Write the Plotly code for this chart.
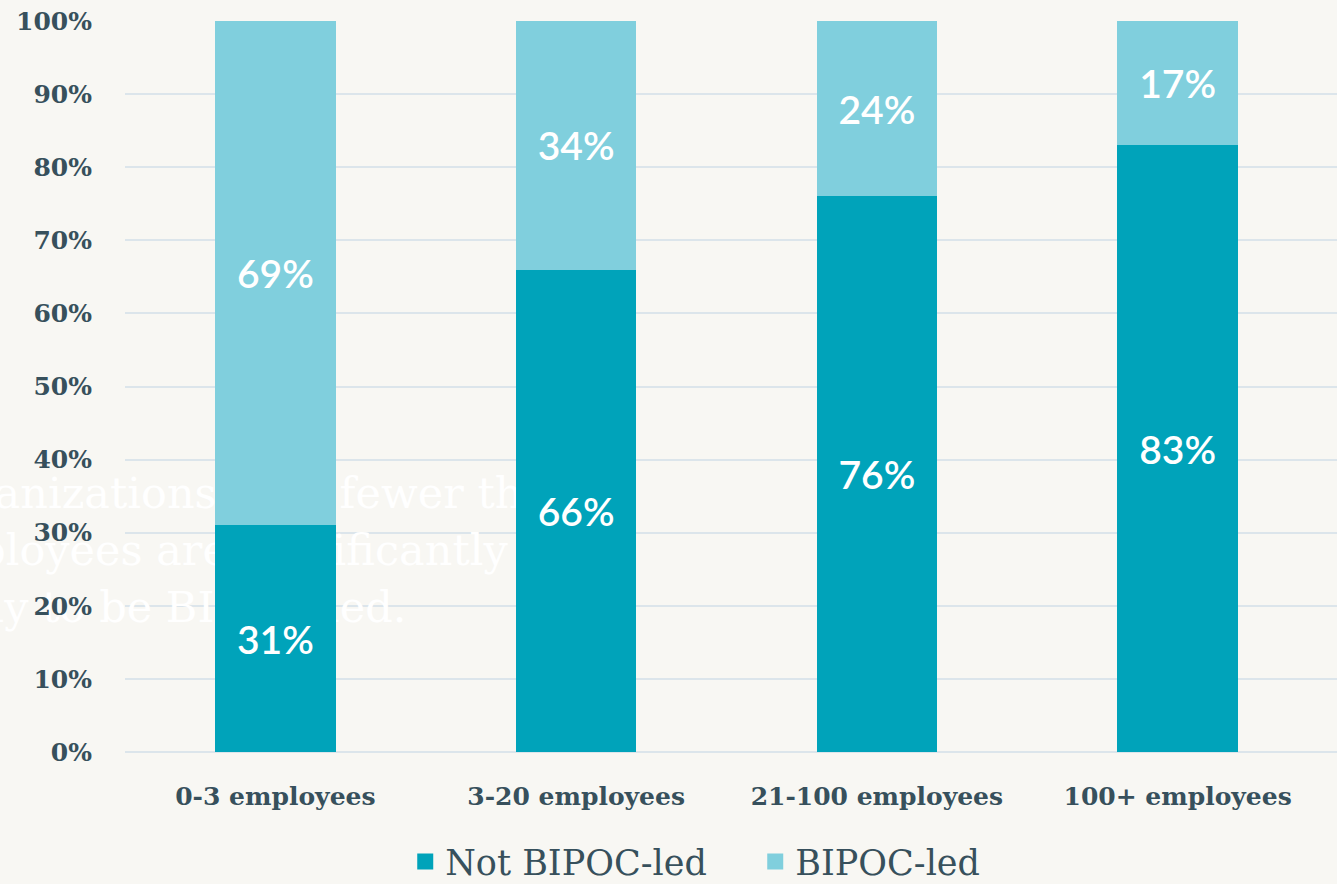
import plotly.graph_objects as go

categories = ["0-3 employees", "3-20 employees", "21-100 employees", "100+ employees"]
not_bipoc = [31, 66, 76, 83]
bipoc = [69, 34, 24, 17]
y_ticks = [0, 10, 20, 30, 40, 50, 60, 70, 80, 90, 100]
y_tick_labels = [f"{v}%" for v in y_ticks]
watermark_lines = ["Organizations with fewer than 3",
                   "employees are significantly more",
                   "likely to be BIPOC-led."]

BG = "#F8F7F3"
DARK = "#00A3BA"
LIGHT = "#80CFDD"
TXT = "#37505C"
GRID = "#DCE5EB"

fig = go.Figure()

# faint background text (drawn on base axes, behind the bars); base axes use pixel-like units
fig.add_trace(go.Scatter(
    x=[264, 273, 159], y=[387, 330, 273],
    text=watermark_lines, mode="text", textposition="middle center",
    textfont=dict(family="DejaVu Serif", size=43, color="#FFFFFF"),
    cliponaxis=False, showlegend=False, hoverinfo="skip",
    xaxis="x", yaxis="y"))

fig.add_trace(go.Bar(
    x=categories, y=not_bipoc, name="Not BIPOC-led", showlegend=False,
    marker=dict(color=DARK, line=dict(width=0)),
    text=[f"{v}%" for v in not_bipoc], textposition="inside",
    insidetextanchor="middle",
    textfont=dict(family="Lato", size=39, color="white", weight=600),
    xaxis="x2", yaxis="y2", width=0.4))
fig.add_trace(go.Bar(
    x=categories, y=bipoc, name="BIPOC-led", showlegend=False,
    marker=dict(color=LIGHT, line=dict(width=0)),
    text=[f"{v}%" for v in bipoc], textposition="inside",
    insidetextanchor="middle",
    textfont=dict(family="Lato", size=39, color="white", weight=600),
    xaxis="x2", yaxis="y2", width=0.4))

# legend entries with larger square swatches
for name, col in [("Not BIPOC-led", DARK), ("BIPOC-led", LIGHT)]:
    fig.add_trace(go.Scatter(
        x=[None], y=[None], mode="markers", name=name,
        marker=dict(symbol="square", size=16, color=col),
        xaxis="x2", yaxis="y2", hoverinfo="skip"))

fig.update_layout(
    width=1337, height=884,
    paper_bgcolor=BG, plot_bgcolor=BG,
    barmode="stack",
    margin=dict(l=125, r=0, t=21, b=132, autoexpand=False),
    uniformtext=dict(minsize=39, mode="show"),
    xaxis=dict(range=[125, 1337], visible=False, fixedrange=True),
    yaxis=dict(range=[132, 863], visible=False, fixedrange=True),
    xaxis2=dict(overlaying="x", anchor="y2", type="category",
                range=[-0.5, 3.53], showgrid=False, showline=False,
                zeroline=False, ticks="", ticklabelstandoff=27,
                tickfont=dict(family="DejaVu Serif", size=25, color=TXT, weight="bold")),
    yaxis2=dict(overlaying="y", anchor="x2", range=[0, 100],
                tickvals=y_ticks, ticktext=y_tick_labels,
                showgrid=True, gridcolor=GRID, gridwidth=2,
                zeroline=True, zerolinecolor=GRID, zerolinewidth=2,
                showline=False, ticks="", ticklabelstandoff=32,
                tickfont=dict(family="DejaVu Serif", size=25, color=TXT, weight="bold")),
    legend=dict(orientation="h", x=0.52, xanchor="center", y=-0.15, yanchor="middle",
                traceorder="normal", itemsizing="trace", entrywidth=305,
                font=dict(family="DejaVu Serif", size=35, color=TXT),
                bgcolor="rgba(0,0,0,0)"),
    showlegend=True,
)

fig.write_html(
    "out.html",
    config={"displayModeBar": False},
    post_script="document.body.style.margin='0';document.body.style.background='" + BG + "';document.body.style.overflow='hidden';",
)
